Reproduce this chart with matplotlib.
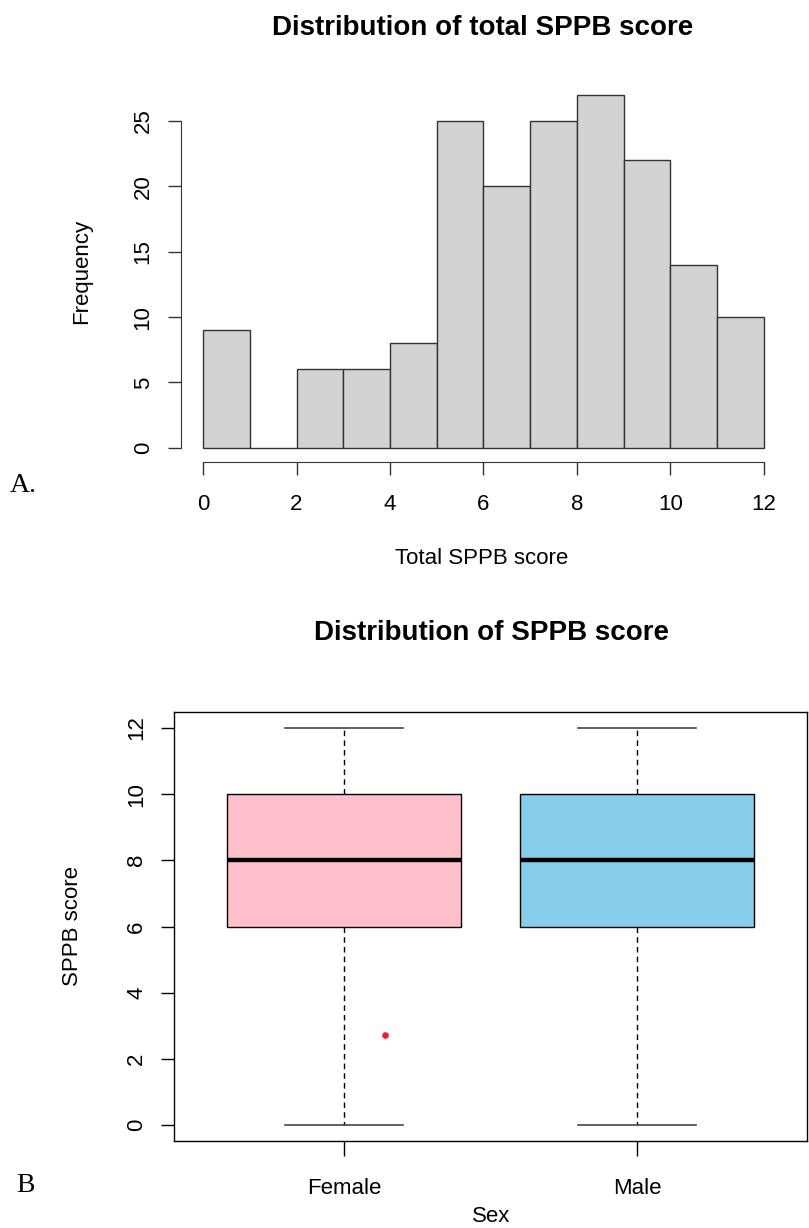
import matplotlib.pyplot as plt
import numpy as np

plt.rcParams['font.family'] = ['Liberation Sans', 'DejaVu Sans']

# histogram data (bins of width 1 from 0 to 12)
bin_edges = np.arange(0, 13)
counts = [9, 0, 6, 6, 8, 25, 20, 25, 27, 22, 14, 10]

# boxplot data by sex
groups = ['Female', 'Male']
q1 = [6, 6]
medians = [8, 8]
q3 = [10, 10]
whis_lo = [0, 0]
whis_hi = [12, 12]
box_colors = ['#FFC0CB', '#87CEEB']
extra_x = [1.14]
extra_y = [2.72]

W, H = 809, 1228
fig = plt.figure(figsize=(W / 100, H / 100), dpi=100)


def rect(left, top, right, bottom):
    return [left / W, 1 - bottom / H, (right - left) / W, (bottom - top) / H]


def px(x, y):
    return x / W, 1 - y / H


# ---- A: histogram
ax1 = fig.add_axes(rect(180.6, 80.7, 786.4, 462))
ax1.bar(bin_edges[:-1], counts, width=1, align='edge', color='#D3D3D3',
        edgecolor='#333333', linewidth=1)
ax1.set_xlim(-0.48, 12.48)
ax1.set_ylim(-1.08, 28.08)
ax1.spines['top'].set_visible(False)
ax1.spines['right'].set_visible(False)
ax1.spines['bottom'].set_bounds(0, 12)
ax1.spines['left'].set_bounds(0, 25)
for s in ['bottom', 'left']:
    ax1.spines[s].set_color('#333333')
ax1.set_xticks(range(0, 13, 2))
ax1.set_yticks(range(0, 26, 5))
ax1.tick_params(axis='x', length=9.4, width=1, color='#333333', labelsize=16, pad=14)
ax1.tick_params(axis='y', length=9.4, width=1, color='#333333', labelsize=16, pad=10)
for lab in ax1.get_yticklabels():
    lab.set_rotation(90)
    lab.set_va('center')
fig.text(*px(483, 28), 'Distribution of total SPPB score', ha='center', va='center',
         fontsize=20, fontweight='bold')
fig.text(*px(482, 559), 'Total SPPB score', ha='center', va='center', fontsize=16)
fig.text(*px(82, 271), 'Frequency', ha='center', va='center', fontsize=16, rotation=90)
fig.text(*px(10, 485), 'A.', ha='left', va='center', fontsize=20,
         family=['Liberation Serif', 'DejaVu Serif'])

# ---- B: boxplot
ax2 = fig.add_axes(rect(174, 712, 807, 1141))
stats = []
for i, g in enumerate(groups):
    stats.append({'label': g, 'med': medians[i], 'q1': q1[i], 'q3': q3[i],
                  'whislo': whis_lo[i], 'whishi': whis_hi[i], 'fliers': []})
bp = ax2.bxp(stats, positions=[1, 2], widths=0.8, capwidths=0.4, patch_artist=True,
             showfliers=False,
             boxprops=dict(edgecolor='black', linewidth=1),
             medianprops=dict(color='black', linewidth=3.2),
             whiskerprops=dict(color='black', linewidth=1, linestyle=(0, (4, 3))),
             capprops=dict(color='#444444', linewidth=1.2))
for patch, c in zip(bp['boxes'], box_colors):
    patch.set_facecolor(c)
ax2.scatter(extra_x, extra_y, s=14, color='#E8202A', zorder=5)
ax2.set_xlim(0.42, 2.58)
ax2.set_ylim(-0.48, 12.48)
ax2.set_yticks(range(0, 13, 2))
ax2.tick_params(axis='x', length=10.5, width=1, labelsize=16, pad=16)
ax2.tick_params(axis='y', length=9.4, width=1, labelsize=16, pad=10)
for lab in ax2.get_yticklabels():
    lab.set_rotation(90)
    lab.set_va('center')
for s in ax2.spines.values():
    s.set_linewidth(1)
fig.text(*px(491, 633), 'Distribution of SPPB score', ha='center', va='center',
         fontsize=20, fontweight='bold')
fig.text(*px(491, 1217), 'Sex', ha='center', va='center', fontsize=16)
fig.text(*px(72, 926), 'SPPB score', ha='center', va='center', fontsize=16, rotation=90)
fig.text(*px(16, 1185), 'B', ha='left', va='center', fontsize=20,
         family=['Liberation Serif', 'DejaVu Serif'])

fig.savefig('out.png', dpi=100)
